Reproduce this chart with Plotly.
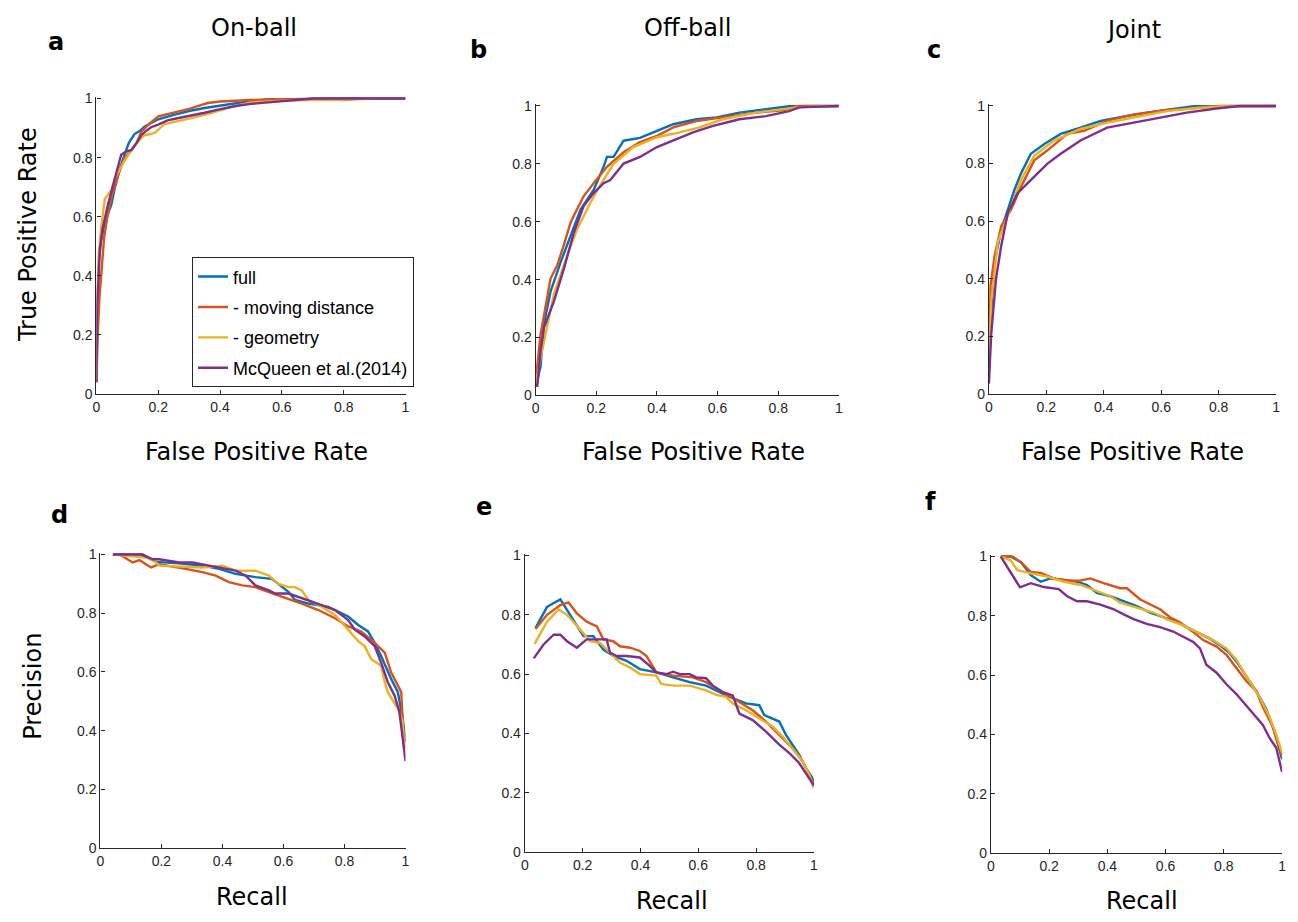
import plotly.graph_objects as go

W, H = 1298, 922
COLORS = ["#0072BD", "#D95319", "#EDB120", "#7E2F8E"]
NAMES = ["full", "- moving distance", "- geometry", "McQueen et al.(2014)"]
TICKS = [0, 0.2, 0.4, 0.6, 0.8, 1]
TICK_TEXT = ["0", "0.2", "0.4", "0.6", "0.8", "1"]
PANEL_LETTERS = ["a", "b", "c", "d", "e", "f"]
COLUMN_TITLES = ["On-ball", "Off-ball", "Joint"]
ROC_XLABEL = "False Positive Rate"
ROC_YLABEL = "True Positive Rate"
PR_XLABEL = "Recall"
PR_YLABEL = "Precision"

# ---------------- a : On-ball ROC ----------------
a_full_x = [0, 0.003, 0.008, 0.015, 0.027, 0.04, 0.048, 0.06, 0.075, 0.091, 0.105, 0.123, 0.14, 0.155, 0.18, 0.2, 0.25, 0.3, 0.35, 0.4, 0.45, 0.5, 0.55, 0.65, 0.8, 1.0]
a_full_y = [0.04, 0.3, 0.45, 0.52, 0.58, 0.62, 0.64, 0.7, 0.76, 0.81, 0.85, 0.88, 0.89, 0.905, 0.92, 0.93, 0.945, 0.958, 0.968, 0.976, 0.985, 0.992, 0.997, 0.999, 1.0, 1.0]
a_md_x = [0, 0.004, 0.01, 0.017, 0.025, 0.037, 0.05, 0.07, 0.091, 0.11, 0.13, 0.145, 0.171, 0.2, 0.23, 0.26, 0.3, 0.33, 0.36, 0.4, 0.45, 0.5, 0.6, 0.7, 0.8, 0.85, 1.0]
a_md_y = [0.04, 0.2, 0.33, 0.44, 0.53, 0.61, 0.67, 0.74, 0.80, 0.82, 0.85, 0.887, 0.914, 0.94, 0.947, 0.955, 0.965, 0.975, 0.985, 0.99, 0.993, 0.995, 0.998, 0.998, 0.995, 1.0, 1.0]
a_geo_x = [0, 0.003, 0.008, 0.015, 0.027, 0.035, 0.048, 0.06, 0.075, 0.091, 0.11, 0.123, 0.14, 0.155, 0.175, 0.19, 0.22, 0.25, 0.3, 0.35, 0.4, 0.45, 0.5, 0.6, 0.7, 0.8, 0.9, 1.0]
a_geo_y = [0.05, 0.35, 0.48, 0.56, 0.66, 0.67, 0.69, 0.73, 0.76, 0.79, 0.82, 0.84, 0.86, 0.876, 0.88, 0.885, 0.914, 0.92, 0.932, 0.945, 0.96, 0.975, 0.987, 0.993, 0.995, 0.996, 1.0, 1.0]
a_mq_x = [0, 0.003, 0.011, 0.02, 0.037, 0.05, 0.065, 0.08, 0.095, 0.113, 0.13, 0.145, 0.16, 0.177, 0.2, 0.23, 0.27, 0.305, 0.35, 0.39, 0.45, 0.5, 0.6, 0.7, 0.8, 1.0]
a_mq_y = [0.04, 0.3, 0.49, 0.56, 0.64, 0.69, 0.75, 0.81, 0.82, 0.826, 0.85, 0.876, 0.89, 0.903, 0.912, 0.926, 0.935, 0.942, 0.952, 0.962, 0.975, 0.982, 0.99, 1.0, 1.0, 1.0]

# ---------------- b : Off-ball ROC ----------------
b_full_x = [0, 0.016, 0.027, 0.049, 0.082, 0.115, 0.148, 0.191, 0.224, 0.235, 0.257, 0.29, 0.344, 0.4, 0.454, 0.53, 0.596, 0.672, 0.749, 0.836, 0.9, 1.0]
b_full_y = [0.03, 0.1, 0.245, 0.359, 0.46, 0.552, 0.642, 0.71, 0.79, 0.824, 0.824, 0.88, 0.89, 0.914, 0.937, 0.954, 0.96, 0.977, 0.988, 0.999, 1.0, 1.0]
b_md_x = [0, 0.016, 0.049, 0.071, 0.093, 0.115, 0.13, 0.158, 0.191, 0.235, 0.29, 0.344, 0.4, 0.454, 0.53, 0.617, 0.727, 0.814, 0.87, 1.0]
b_md_y = [0.05, 0.21, 0.404, 0.45, 0.52, 0.597, 0.63, 0.688, 0.733, 0.79, 0.84, 0.875, 0.897, 0.926, 0.948, 0.96, 0.977, 0.985, 1.0, 1.0]
b_geo_x = [0, 0.016, 0.06, 0.104, 0.137, 0.18, 0.213, 0.257, 0.322, 0.4, 0.475, 0.541, 0.617, 0.727, 0.869, 1.0]
b_geo_y = [0.04, 0.13, 0.35, 0.484, 0.575, 0.665, 0.727, 0.80, 0.858, 0.892, 0.909, 0.926, 0.954, 0.977, 0.996, 1.0]
b_mq_x = [0.005, 0.016, 0.027, 0.06, 0.093, 0.126, 0.158, 0.191, 0.224, 0.246, 0.29, 0.344, 0.4, 0.454, 0.519, 0.585, 0.672, 0.76, 0.836, 0.87, 1.0]
b_mq_y = [0.03, 0.155, 0.234, 0.325, 0.438, 0.563, 0.654, 0.699, 0.733, 0.744, 0.801, 0.824, 0.858, 0.88, 0.909, 0.931, 0.954, 0.965, 0.982, 0.995, 1.0]

# ---------------- c : Joint ROC ----------------
c_full_x = [0, 0.002, 0.02, 0.043, 0.066, 0.089, 0.112, 0.146, 0.193, 0.25, 0.319, 0.389, 0.481, 0.585, 0.712, 1.0]
c_full_y = [0.05, 0.207, 0.458, 0.572, 0.64, 0.709, 0.766, 0.834, 0.868, 0.903, 0.925, 0.948, 0.965, 0.982, 0.999, 1.0]
c_md_x = [0, 0.006, 0.02, 0.043, 0.077, 0.112, 0.158, 0.204, 0.273, 0.331, 0.412, 0.504, 0.619, 0.735, 0.804, 1.0]
c_md_y = [0.1, 0.378, 0.48, 0.583, 0.64, 0.72, 0.811, 0.846, 0.903, 0.914, 0.948, 0.971, 0.985, 0.996, 1.0, 1.0]
c_geo_x = [0, 0.008, 0.031, 0.066, 0.112, 0.158, 0.227, 0.319, 0.412, 0.504, 0.619, 0.735, 0.827, 1.0]
c_geo_y = [0.08, 0.321, 0.527, 0.618, 0.743, 0.828, 0.88, 0.92, 0.942, 0.96, 0.982, 0.994, 1.0, 1.0]
c_mq_x = [0, 0.008, 0.025, 0.043, 0.066, 0.1, 0.135, 0.158, 0.204, 0.25, 0.319, 0.389, 0.412, 0.504, 0.596, 0.689, 0.792, 0.873, 1.0]
c_mq_y = [0.036, 0.207, 0.401, 0.515, 0.629, 0.697, 0.732, 0.754, 0.8, 0.834, 0.88, 0.914, 0.925, 0.942, 0.96, 0.977, 0.991, 1.0, 1.0]

# ---------------- d : On-ball PR ----------------
d_full_x = [0.041, 0.139, 0.182, 0.258, 0.334, 0.389, 0.443, 0.508, 0.562, 0.617, 0.638, 0.682, 0.747, 0.812, 0.845, 0.877, 0.899, 0.92, 0.953, 0.975, 0.991, 1.0]
d_full_y = [1.0, 1.0, 0.975, 0.97, 0.962, 0.951, 0.934, 0.923, 0.917, 0.872, 0.845, 0.833, 0.822, 0.789, 0.76, 0.738, 0.699, 0.654, 0.576, 0.531, 0.441, 0.36]
d_md_x = [0.041, 0.063, 0.106, 0.128, 0.166, 0.193, 0.28, 0.334, 0.378, 0.421, 0.465, 0.508, 0.552, 0.595, 0.617, 0.66, 0.714, 0.769, 0.812, 0.855, 0.899, 0.932, 0.953, 0.975, 0.986, 0.991, 0.997]
d_md_y = [1.0, 1.0, 0.973, 0.981, 0.956, 0.967, 0.951, 0.94, 0.928, 0.906, 0.895, 0.889, 0.872, 0.856, 0.85, 0.833, 0.811, 0.783, 0.755, 0.738, 0.699, 0.666, 0.598, 0.554, 0.531, 0.431, 0.341]
d_geo_x = [0.041, 0.15, 0.18, 0.193, 0.334, 0.4, 0.443, 0.508, 0.552, 0.584, 0.617, 0.638, 0.66, 0.682, 0.725, 0.769, 0.812, 0.845, 0.866, 0.888, 0.92, 0.932, 0.942, 0.975, 0.991, 0.995]
d_geo_y = [1.0, 0.99, 0.975, 0.962, 0.956, 0.962, 0.945, 0.945, 0.928, 0.9, 0.889, 0.889, 0.878, 0.845, 0.822, 0.794, 0.744, 0.705, 0.688, 0.643, 0.621, 0.565, 0.531, 0.475, 0.431, 0.341]
d_mq_x = [0.041, 0.134, 0.172, 0.193, 0.258, 0.302, 0.356, 0.443, 0.476, 0.508, 0.552, 0.573, 0.617, 0.682, 0.725, 0.769, 0.812, 0.834, 0.866, 0.899, 0.92, 0.942, 0.964, 0.98, 0.991, 1.0]
d_mq_y = [1.0, 1.0, 0.984, 0.984, 0.973, 0.973, 0.962, 0.945, 0.928, 0.895, 0.878, 0.867, 0.867, 0.845, 0.828, 0.811, 0.777, 0.744, 0.721, 0.688, 0.632, 0.565, 0.52, 0.464, 0.375, 0.296]

# ---------------- e : Off-ball PR ----------------
e_full_x = [0.037, 0.077, 0.123, 0.146, 0.18, 0.203, 0.237, 0.272, 0.306, 0.352, 0.398, 0.455, 0.513, 0.57, 0.627, 0.662, 0.708, 0.765, 0.811, 0.828, 0.857, 0.88, 0.903, 0.925, 0.948, 0.971, 0.994, 1.0]
e_full_y = [0.755, 0.827, 0.852, 0.816, 0.761, 0.728, 0.728, 0.683, 0.661, 0.645, 0.617, 0.606, 0.589, 0.573, 0.561, 0.545, 0.523, 0.501, 0.495, 0.462, 0.451, 0.44, 0.395, 0.362, 0.329, 0.285, 0.25, 0.235]
e_md_x = [0.037, 0.077, 0.123, 0.151, 0.18, 0.214, 0.249, 0.272, 0.306, 0.329, 0.364, 0.398, 0.421, 0.455, 0.513, 0.581, 0.627, 0.696, 0.742, 0.788, 0.834, 0.88, 0.925, 0.96, 0.983, 1.0]
e_md_y = [0.752, 0.8, 0.833, 0.842, 0.805, 0.777, 0.761, 0.717, 0.711, 0.694, 0.689, 0.678, 0.661, 0.606, 0.595, 0.589, 0.573, 0.534, 0.506, 0.478, 0.44, 0.395, 0.351, 0.307, 0.262, 0.229]
e_geo_x = [0.034, 0.077, 0.117, 0.146, 0.192, 0.226, 0.26, 0.295, 0.329, 0.364, 0.398, 0.455, 0.472, 0.513, 0.57, 0.627, 0.662, 0.696, 0.719, 0.765, 0.811, 0.857, 0.891, 0.925, 0.96, 0.983, 0.998]
e_geo_y = [0.702, 0.777, 0.818, 0.8, 0.75, 0.711, 0.705, 0.672, 0.639, 0.622, 0.6, 0.595, 0.567, 0.561, 0.561, 0.545, 0.53, 0.523, 0.501, 0.478, 0.451, 0.423, 0.39, 0.351, 0.307, 0.262, 0.216]
e_mq_x = [0.031, 0.065, 0.1, 0.123, 0.146, 0.18, 0.214, 0.249, 0.283, 0.295, 0.318, 0.352, 0.398, 0.432, 0.455, 0.49, 0.513, 0.536, 0.57, 0.593, 0.627, 0.65, 0.685, 0.719, 0.742, 0.788, 0.834, 0.88, 0.914, 0.948, 0.971, 1.0]
e_mq_y = [0.653, 0.7, 0.733, 0.733, 0.711, 0.689, 0.717, 0.717, 0.717, 0.672, 0.661, 0.661, 0.656, 0.628, 0.606, 0.6, 0.608, 0.6, 0.6, 0.589, 0.586, 0.561, 0.539, 0.528, 0.467, 0.445, 0.406, 0.362, 0.334, 0.301, 0.268, 0.224]

# ---------------- f : Joint PR ----------------
f_full_x = [0.034, 0.068, 0.103, 0.137, 0.171, 0.205, 0.251, 0.296, 0.33, 0.364, 0.41, 0.456, 0.501, 0.547, 0.581, 0.626, 0.672, 0.718, 0.752, 0.786, 0.82, 0.843, 0.877, 0.911, 0.945, 0.968, 0.991, 1.0]
f_full_y = [1.0, 1.0, 0.981, 0.937, 0.915, 0.926, 0.921, 0.915, 0.904, 0.877, 0.866, 0.849, 0.833, 0.811, 0.8, 0.784, 0.762, 0.74, 0.723, 0.701, 0.674, 0.646, 0.597, 0.547, 0.487, 0.426, 0.349, 0.316]
f_md_x = [0.034, 0.074, 0.103, 0.137, 0.171, 0.216, 0.273, 0.308, 0.342, 0.387, 0.444, 0.467, 0.513, 0.558, 0.581, 0.615, 0.649, 0.695, 0.729, 0.775, 0.809, 0.843, 0.877, 0.911, 0.934, 0.968, 0.991, 1.0]
f_md_y = [1.0, 1.0, 0.981, 0.948, 0.945, 0.926, 0.918, 0.919, 0.926, 0.91, 0.893, 0.893, 0.855, 0.833, 0.822, 0.795, 0.778, 0.745, 0.718, 0.696, 0.668, 0.624, 0.58, 0.547, 0.492, 0.426, 0.36, 0.327]
f_geo_x = [0.034, 0.068, 0.091, 0.137, 0.194, 0.251, 0.308, 0.364, 0.41, 0.444, 0.501, 0.558, 0.604, 0.661, 0.718, 0.763, 0.809, 0.843, 0.888, 0.923, 0.957, 0.98, 1.0]
f_geo_y = [1.0, 0.987, 0.954, 0.943, 0.932, 0.915, 0.904, 0.882, 0.866, 0.844, 0.827, 0.811, 0.789, 0.767, 0.74, 0.718, 0.69, 0.652, 0.58, 0.525, 0.459, 0.399, 0.338]
f_mq_x = [0.034, 0.068, 0.1, 0.137, 0.182, 0.233, 0.262, 0.296, 0.33, 0.376, 0.422, 0.456, 0.49, 0.535, 0.581, 0.626, 0.661, 0.695, 0.718, 0.74, 0.775, 0.809, 0.843, 0.877, 0.9, 0.934, 0.957, 0.98, 1.0]
f_mq_y = [1.0, 0.948, 0.896, 0.91, 0.897, 0.89, 0.866, 0.849, 0.849, 0.838, 0.822, 0.805, 0.789, 0.773, 0.762, 0.747, 0.729, 0.712, 0.69, 0.635, 0.608, 0.569, 0.536, 0.498, 0.47, 0.432, 0.388, 0.355, 0.273]

PANEL_DATA = {
    "a": [(a_full_x, a_full_y), (a_md_x, a_md_y), (a_geo_x, a_geo_y), (a_mq_x, a_mq_y)],
    "b": [(b_full_x, b_full_y), (b_md_x, b_md_y), (b_geo_x, b_geo_y), (b_mq_x, b_mq_y)],
    "c": [(c_full_x, c_full_y), (c_md_x, c_md_y), (c_geo_x, c_geo_y), (c_mq_x, c_mq_y)],
    "d": [(d_full_x, d_full_y), (d_md_x, d_md_y), (d_geo_x, d_geo_y), (d_mq_x, d_mq_y)],
    "e": [(e_full_x, e_full_y), (e_md_x, e_md_y), (e_geo_x, e_geo_y), (e_mq_x, e_mq_y)],
    "f": [(f_full_x, f_full_y), (f_md_x, f_md_y), (f_geo_x, f_geo_y), (f_mq_x, f_mq_y)],
}

# plot-area boxes in pixels: (left, right, top(y=1), bottom(y=0))
BOXES = {
    "a": (93, 404, 94, 394),
    "b": (535, 840, 101.5, 395.5),
    "c": (991, 1280, 101.5, 394),
    "d": (97, 404, 557, 855),
    "e": (524, 815, 558, 859),
    "f": (993, 1286, 559, 860),
}
YMAX = 1.006

def fx(px):
    return px / W

def fy(py):
    return 1 - py / H

fig = go.Figure()
layout_axes = {}
for i, key in enumerate(PANEL_LETTERS):
    n = i + 1
    xa = "x" if n == 1 else f"x{n}"
    ya = "y" if n == 1 else f"y{n}"
    left, right, top, bottom = BOXES[key]
    top_ext = top - (YMAX - 1) * (bottom - top)
    for j, (xs, ys) in enumerate(PANEL_DATA[key]):
        fig.add_trace(go.Scatter(
            x=xs, y=ys, mode="lines", name=NAMES[j],
            line=dict(color=COLORS[j], width=2.4),
            xaxis=xa, yaxis=ya, showlegend=(n == 1), legendgroup=f"g{j}",
            hoverinfo="skip",
        ))
    common = dict(
        showline=True, linecolor="#262626", linewidth=1.2,
        ticks="inside", ticklen=4, tickwidth=1.1, tickcolor="#262626",
        tickvals=TICKS, ticktext=TICK_TEXT,
        tickfont=dict(family="Liberation Sans, Arial", size=14, color="#262626"),
        showgrid=False, zeroline=False, mirror=False, fixedrange=True,
    )
    layout_axes["xaxis" if n == 1 else f"xaxis{n}"] = dict(
        common, domain=[fx(left), fx(right)], range=[0, 1],
        anchor=ya,
    )
    layout_axes["yaxis" if n == 1 else f"yaxis{n}"] = dict(
        common, domain=[fy(bottom), fy(top_ext)], range=[0, YMAX],
        anchor=xa,
    )

TITLE_FONT = dict(family="DejaVu Sans", size=24, color="#000000")
LETTER_FONT = dict(family="DejaVu Sans", size=24, color="#000000")
annotations = []

def add_text(text, x, y, font, angle=0, bold=False):
    annotations.append(dict(
        text=f"<b>{text}</b>" if bold else text,
        x=fx(x), y=fy(y), xref="paper", yref="paper",
        xanchor="center", yanchor="middle", showarrow=False,
        font=font, textangle=angle,
    ))

# column titles
for t, (x, y) in zip(COLUMN_TITLES, [(252, 22.3), (688, 22.3), (1137, 24)]):
    add_text(t, x, y, TITLE_FONT)
# panel letters
for L, (x, y) in zip(PANEL_LETTERS, [(52.5, 36.6), (477.7, 44.3), (935.5, 44.3),
                                      (55.5, 516.6), (482.8, 508.3), (932, 503.3)]):
    add_text(L, x, y, LETTER_FONT, bold=True)
# axis titles
for x, y in [(253.8, 452.6), (693.8, 452.6), (1135.8, 453.3)]:
    add_text(ROC_XLABEL, x, y, TITLE_FONT)
for x, y in [(250, 905), (671.7, 908.3), (1145, 908.3)]:
    add_text(PR_XLABEL, x, y, TITLE_FONT)
add_text(ROC_YLABEL, 24.3, 232.5, TITLE_FONT, angle=-90)
add_text(PR_YLABEL, 28.9, 690.5, TITLE_FONT, angle=-90)

fig.update_layout(
    width=W, height=H, autosize=False,
    margin=dict(l=0, r=0, t=0, b=0),
    paper_bgcolor="white", plot_bgcolor="white",
    annotations=annotations,
    legend=dict(
        x=fx(189), y=fy(255), xanchor="left", yanchor="top",
        bgcolor="white", bordercolor="#262626", borderwidth=1.2,
        font=dict(family="Liberation Sans, Arial", size=18, color="#000000"),
        tracegroupgap=4, itemwidth=30,
    ),
    **layout_axes,
)

fig.write_html("out.html", config={"displayModeBar": False},
               post_script="document.body.style.margin='0';")
